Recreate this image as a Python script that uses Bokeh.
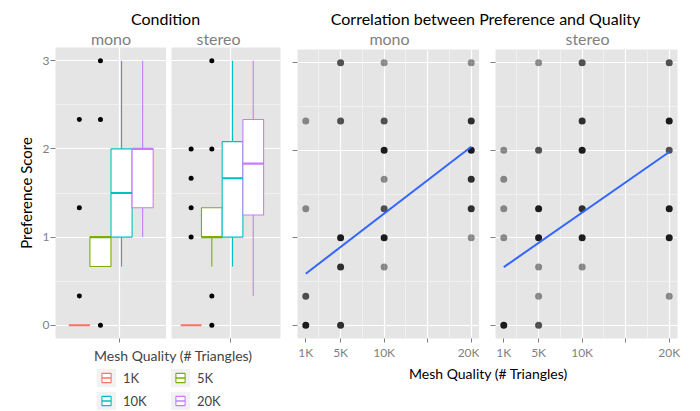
from bokeh.plotting import figure
from bokeh.layouts import row, column
from bokeh.models import (Range1d, FixedTicker, CustomJSTickFormatter, Label,
                          Legend, LegendItem, ColumnDataSource)
from bokeh.embed import file_html
from bokeh.resources import INLINE

# ---------------- data ----------------
groups = ["1K", "5K", "10K", "20K"]
group_colors = ["#F8766D", "#7CAE00", "#00BFC4", "#C77CFF"]

# boxplot statistics (preference score) per mesh quality group
mono_low = [0.0, 0.667, 0.667, 1.0]
mono_q1 = [0.0, 0.667, 1.0, 1.333]
mono_med = [0.0, 1.0, 1.5, 2.0]
mono_q3 = [0.0, 1.0, 2.0, 2.0]
mono_high = [0.0, 1.0, 3.0, 3.0]
mono_out_group = ["1K", "1K", "1K", "5K", "5K", "5K"]
mono_out_value = [0.333, 1.333, 2.333, 0.0, 2.333, 3.0]

stereo_low = [0.0, 0.667, 0.667, 0.333]
stereo_q1 = [0.0, 1.0, 1.0, 1.25]
stereo_med = [0.0, 1.0, 1.667, 1.833]
stereo_q3 = [0.0, 1.333, 2.083, 2.333]
stereo_high = [0.0, 1.333, 3.0, 3.0]
stereo_out_group = ["1K", "1K", "1K", "1K", "5K", "5K", "5K", "5K"]
stereo_out_value = [1.0, 1.333, 1.667, 2.0, 0.0, 0.333, 2.0, 3.0]

# scatter: mesh quality (thousand triangles), score, number of overlapping observations
mono_quality = [1, 1, 1, 1,
                5, 5, 5, 5, 5,
                10, 10, 10, 10, 10, 10, 10,
                20, 20, 20, 20, 20, 20]
mono_score = [2.333, 1.333, 0.333, 0.0,
              3.0, 2.333, 1.0, 0.667, 0.0,
              3.0, 2.333, 2.0, 1.667, 1.333, 1.0, 0.667,
              3.0, 2.333, 2.0, 1.667, 1.333, 1.0]
mono_count = [1, 1, 2, 4,
              2, 2, 4, 3, 3,
              1, 2, 4, 1, 2, 4, 1,
              1, 3, 4, 3, 3, 1]

stereo_quality = [1, 1, 1, 1, 1,
                  5, 5, 5, 5, 5, 5, 5,
                  10, 10, 10, 10, 10, 10,
                  20, 20, 20, 20, 20, 20]
stereo_score = [2.0, 1.667, 1.333, 1.0, 0.0,
                3.0, 2.0, 1.333, 1.0, 0.667, 0.333, 0.0,
                3.0, 2.333, 2.0, 1.333, 1.0, 0.667,
                3.0, 2.333, 2.0, 1.333, 1.0, 0.333]
stereo_count = [1, 1, 1, 1, 4,
                1, 2, 4, 4, 1, 1, 2,
                2, 3, 4, 3, 4, 1,
                2, 4, 2, 4, 4, 1]

# linear fit lines
fit_quality = [1, 20]
mono_fit = [0.59, 2.04]
stereo_fit = [0.665, 1.98]

score_ticks = [0, 1, 2, 3]
quality_ticks = [1, 5, 10, 15, 20]
quality_tick_labels = ["1K", "5K", "10K", "", "20K"]

# ---------------- style ----------------
FONT = "Lato"
GREY_TEXT = "#7F7F7F"
PANEL_BG = "#E5E5E5"
MINOR_GRID = "#F2F2F2"
BOX_W = 0.19
POINT_ALPHA = 0.42
BLANK = CustomJSTickFormatter(code="return ''")


def make_fig(width, height, x_range, y_range, left, right, top, bottom,
             x_loc="below", y_loc="left"):
    p = figure(width=width, height=height, x_range=x_range, y_range=y_range,
               output_backend="svg", toolbar_location=None, title=None,
               min_border_left=left, min_border_right=right,
               min_border_top=top, min_border_bottom=bottom,
               x_axis_location=x_loc, y_axis_location=y_loc,
               background_fill_color=PANEL_BG, border_fill_color="white",
               outline_line_color=None)
    p.grid.grid_line_color = "white"
    p.grid.grid_line_width = 1.2
    p.grid.minor_grid_line_color = MINOR_GRID
    p.grid.minor_grid_line_width = 0.8
    return p


def style_axis(ax, size="12px", tick_out=4):
    ax.axis_line_color = None
    ax.major_tick_line_color = GREY_TEXT
    ax.major_tick_in = 0
    ax.major_tick_out = tick_out
    ax.minor_tick_line_color = None
    ax.major_label_text_color = GREY_TEXT
    ax.major_label_text_font = FONT
    ax.major_label_text_font_size = size
    ax.major_label_standoff = 2


def text_fig(width, height, x0, x1, y0, y1):
    p = figure(width=width, height=height, x_range=Range1d(x0, x1), y_range=Range1d(y1, y0),
               output_backend="svg", toolbar_location=None, title=None,
               min_border_left=0, min_border_right=0, min_border_top=0, min_border_bottom=0,
               x_axis_location=None, y_axis_location=None, outline_line_color=None,
               background_fill_color="white", border_fill_color="white")
    p.grid.visible = False
    return p


def draw_boxes(p, low, q1, med, q3, high, out_group, out_value):
    centers = [0.5 + (i - 1.5) * BOX_W for i in range(len(groups))]
    src = ColumnDataSource(dict(
        x=centers, left=[c - BOX_W / 2 for c in centers], right=[c + BOX_W / 2 for c in centers],
        low=low, q1=q1, med=med, q3=q3, high=high, color=group_colors))
    p.segment(x0="x", y0="low", x1="x", y1="q1", line_color="color", line_width=1.1, source=src)
    p.segment(x0="x", y0="q3", x1="x", y1="high", line_color="color", line_width=1.1, source=src)
    p.quad(left="left", right="right", bottom="q1", top="q3", fill_color="white",
           line_color="color", line_width=1.1, source=src)
    p.segment(x0="left", y0="med", x1="right", y1="med", line_color="color",
              line_width=2.2, source=src)
    ox = [centers[groups.index(g)] for g in out_group]
    p.scatter(ox, out_value, size=5, fill_color="black", line_color=None)


def box_fig(width, left, right, x_range, show_y):
    p = make_fig(width, 299, x_range, Range1d(-0.15, 3.15), left, right, 0, 8,
                 y_loc="left" if show_y else None)
    yt = FixedTicker(ticks=score_ticks, minor_ticks=[0.5, 1.5, 2.5])
    p.ygrid.ticker = yt
    p.xgrid.ticker = FixedTicker(ticks=[0.58], minor_ticks=[])
    p.xaxis.ticker = FixedTicker(ticks=[0.58], minor_ticks=[])
    p.xaxis.formatter = BLANK
    style_axis(p.xaxis, size="1px")
    p.xaxis.major_label_standoff = 0
    if show_y:
        p.yaxis.ticker = yt
        style_axis(p.yaxis, size="12px", tick_out=5)
        p.yaxis.major_label_standoff = 1
        p.yaxis.axis_label = "Preference Score"
        p.yaxis.axis_label_text_font = FONT
        p.yaxis.axis_label_text_font_size = "15px"
        p.yaxis.axis_label_text_font_style = "normal"
        p.yaxis.axis_label_text_color = "black"
        p.yaxis.axis_label_standoff = 5
    return p


def scatter_fig(width, left, right, quality, score, count, fit):
    p = make_fig(width, 315, Range1d(0.05, 20.95), Range1d(-0.15, 3.15), left, right, 2, 24)
    yt = FixedTicker(ticks=score_ticks, minor_ticks=[0.5, 1.5, 2.5])
    p.ygrid.ticker = yt
    p.yaxis.ticker = yt
    p.yaxis.formatter = BLANK
    style_axis(p.yaxis, size="1px", tick_out=5)
    p.yaxis.major_label_standoff = 0
    p.xgrid.ticker = FixedTicker(ticks=[5, 10, 15, 20], minor_ticks=[2.5, 7.5, 12.5, 17.5])
    p.xaxis.ticker = FixedTicker(ticks=quality_ticks, minor_ticks=[])
    p.xaxis.major_label_overrides = dict(zip(quality_ticks, quality_tick_labels))
    style_axis(p.xaxis, size="12px", tick_out=4)
    alpha = [1 - (1 - POINT_ALPHA) ** n for n in count]
    p.scatter(quality, score, size=7, fill_color="black", fill_alpha=alpha, line_color=None)
    p.line(fit_quality, fit, line_color="#3366FF", line_width=2)
    return p


# ---------------- panels ----------------
pa = box_fig(166, 55, 0, Range1d(0, 1), True)
draw_boxes(pa, mono_low, mono_q1, mono_med, mono_q3, mono_high, mono_out_group, mono_out_value)
pb = box_fig(117, 5, 3, Range1d(0.035, 1.035), False)
draw_boxes(pb, stereo_low, stereo_q1, stereo_med, stereo_q3, stereo_high,
           stereo_out_group, stereo_out_value)

pc = scatter_fig(196, 14, 0, mono_quality, mono_score, mono_count, mono_fit)
pd = scatter_fig(219, 16, 21, stereo_quality, stereo_score, stereo_count, stereo_fit)

# titles and strip labels (coordinates are page pixels)
tf = text_fig(698, 47, 0, 698, 0, 47)
for txt, x, y, size, color in [
        ("Condition", 165, 18, "16px", "black"),
        ("Correlation between Preference and Quality", 485, 18, "16px", "black"),
        ("mono", 110.5, 37.5, "16px", GREY_TEXT),
        ("stereo", 218, 37.5, "16px", GREY_TEXT),
        ("mono", 389, 37.5, "16px", GREY_TEXT),
        ("stereo", 587, 37.5, "16px", GREY_TEXT)]:
    tf.add_layout(Label(x=x, y=y, text=txt, text_align="center", text_baseline="middle",
                        text_font=FONT, text_font_size=size, text_color=color))

xf = text_fig(415, 48, 283, 698, 362, 410)
xf.add_layout(Label(x=488, y=373, text="Mesh Quality (# Triangles)", text_align="center",
                    text_baseline="middle", text_font=FONT, text_font_size="14px",
                    text_color="black"))

# legend (its renderers hold a point outside the visible range so only the keys show)
lf = figure(width=283, height=64, x_range=Range1d(0, 1), y_range=Range1d(0, 1),
            output_backend="svg", toolbar_location=None, title=None,
            min_border_left=94, min_border_right=0, min_border_top=1, min_border_bottom=0,
            x_axis_location=None, y_axis_location=None, outline_line_color=None,
            background_fill_color="white", border_fill_color="white")
lf.grid.visible = False
items = []
for g, c in zip(groups, group_colors):
    r_bg = lf.quad(left=[10], right=[11], top=[11], bottom=[10], fill_color=MINOR_GRID,
                   line_color=None)
    r_box = lf.scatter(x=[10], y=[10], marker="square", fill_color="white", line_color=c,
                       line_width=1.1)
    r_med = lf.scatter(x=[10], y=[10], marker="dash", line_color=c, line_width=1.5)
    items.append(LegendItem(label=g, renderers=[r_bg, r_box, r_med]))
legend = Legend(items=items, location="top_left", orientation="horizontal", ncols=2,
                title="Mesh Quality (# Triangles)", title_text_font=FONT,
                title_text_font_size="14px", title_text_font_style="normal",
                title_standoff=2, label_text_font=FONT, label_text_font_size="13px",
                label_standoff=5, glyph_width=24, glyph_height=23, label_height=23,
                label_width=45, spacing=0, padding=0, margin=0,
                border_line_color=None, background_fill_alpha=0)
lf.add_layout(legend, "center")

layout = column(tf, row(column(row(pa, pb), lf), column(row(pc, pd), xf)))

open("out.html", "w").write(file_html(layout, INLINE))
